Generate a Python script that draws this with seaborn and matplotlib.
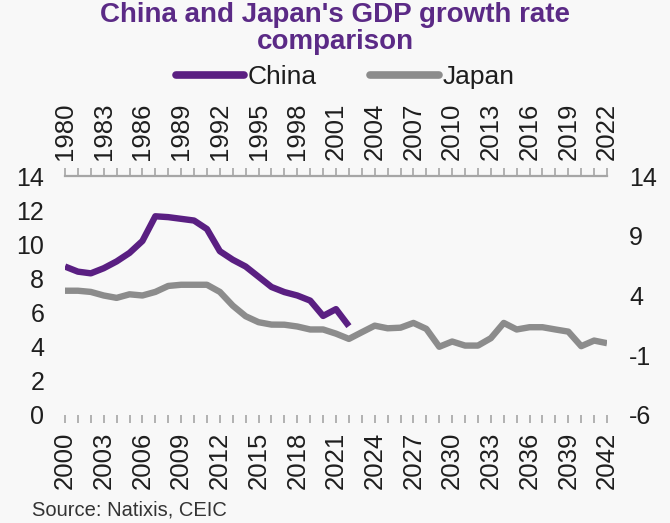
import matplotlib
matplotlib.use("Agg")
import matplotlib.pyplot as plt
import seaborn as sns
import pandas as pd
from matplotlib.ticker import MultipleLocator, FixedLocator
from matplotlib.lines import Line2D

sns.set_theme(style="white")
plt.rcParams['font.family'] = ['Liberation Sans', 'DejaVu Sans']
plt.rcParams['axes.unicode_minus'] = False

china_years = list(range(2000, 2023))
china_gdp = [8.7, 8.4, 8.3, 8.6, 9.0, 9.5, 10.2, 11.65, 11.6, 11.5, 11.4, 10.9,
             9.6, 9.1, 8.7, 8.1, 7.5, 7.2, 7.0, 6.7, 5.8, 6.2, 5.2]

japan_years = list(range(1980, 2023))
japan_gdp = [4.4, 4.4, 4.3, 4.0, 3.8, 4.1, 4.0, 4.3, 4.8, 4.9, 4.9, 4.9, 4.3,
             3.15, 2.26, 1.76, 1.56, 1.55, 1.4, 1.15, 1.15, 0.8, 0.36, 0.92,
             1.47, 1.25, 1.3, 1.7, 1.2, -0.3, 0.14, -0.2, -0.2, 0.42, 1.7,
             1.15, 1.34, 1.34, 1.15, 0.97, -0.25, 0.22, 0.0]

bottom_ticks = list(range(2000, 2043, 3))
top_ticks = list(range(1980, 2023, 3))
left_ticks = [0, 2, 4, 6, 8, 10, 12, 14]
right_ticks = [-6, -1, 4, 9, 14]

china_df = pd.DataFrame({"year": china_years, "gdp": china_gdp})
japan_df = pd.DataFrame({"year": japan_years, "gdp": japan_gdp})

bg = "#f8f8f8"
purple = "#5a1f82"
grey = "#8c8c8c"
spine_c = "#a6a6a6"
txt_c = "#1e1e1e"

fig = plt.figure(figsize=(6.7, 5.23), dpi=100, facecolor=bg)
pos = [0.097, 0.207, 0.809, 0.456]
ax2 = fig.add_axes(pos)
ax = fig.add_axes(pos, frameon=False)

sns.lineplot(data=japan_df, x="year", y="gdp", ax=ax2, color=grey, linewidth=4.6,
             solid_capstyle="butt")
sns.lineplot(data=china_df, x="year", y="gdp", ax=ax, color=purple, linewidth=4.6,
             solid_capstyle="butt")
ax2.set_facecolor(bg)
ax.patch.set_visible(False)

ax.set_xlim(2000, 2042)
ax.set_ylim(0, 14)
ax2.set_xlim(1980, 2022)
ax2.set_ylim(-6, 14)

# primary axes: bottom x, left y
for s in ["top", "left", "right"]:
    ax.spines[s].set_visible(False)
ax.spines["bottom"].set_visible(True)
ax.spines["bottom"].set_color(spine_c)
ax.spines["bottom"].set_linewidth(1.6)
ax.xaxis.set_major_locator(FixedLocator(bottom_ticks))
ax.xaxis.set_minor_locator(MultipleLocator(1))
ax.set_xticklabels([str(t) for t in bottom_ticks], rotation=90)
ax.set_yticks(left_ticks)
ax.tick_params(axis="x", which="both", direction="out", length=6, width=1.2,
               color=spine_c, bottom=True, labelsize=18.5, labelcolor=txt_c, pad=6)
ax.tick_params(axis="y", which="both", length=0, left=True, labelleft=True,
               labelsize=18, labelcolor=txt_c, pad=15)
ax.set_xlabel("")
ax.set_ylabel("")

# secondary axes: top x, right y (Japan)
for s in ["bottom", "left", "right"]:
    ax2.spines[s].set_visible(False)
ax2.xaxis.tick_top()
ax2.yaxis.tick_right()
ax2.spines["top"].set_visible(True)
ax2.spines["top"].set_color(spine_c)
ax2.spines["top"].set_linewidth(1.6)
ax2.xaxis.set_major_locator(FixedLocator(top_ticks))
ax2.xaxis.set_minor_locator(MultipleLocator(1))
ax2.set_xticklabels([str(t) for t in top_ticks], rotation=90)
ax2.set_yticks(right_ticks)
ax2.tick_params(axis="x", which="both", direction="out", length=6, width=1.2,
                color=spine_c, top=True, bottom=False, labeltop=True,
                labelbottom=False, labelsize=18.5, labelcolor=txt_c, pad=6)
ax2.tick_params(axis="y", which="both", length=0, right=True, left=False,
                labelright=True, labelleft=False, labelsize=18,
                labelcolor=txt_c, pad=16)
ax2.set_xlabel("")
ax2.set_ylabel("")
for a in (ax, ax2):
    if a.get_legend():
        a.get_legend().remove()

fig.text(0.5, 0.997, "China and Japan's GDP growth rate\ncomparison", ha="center",
         va="top", fontsize=20, fontweight="bold", color="#5b2a86",
         linespacing=1.05)

handles = [Line2D([0], [0], color=purple, lw=5.5, solid_capstyle="round"),
           Line2D([0], [0], color=grey, lw=5.5, solid_capstyle="round")]
fig.legend(handles, ["China", "Japan"], loc="center", bbox_to_anchor=(0.515, 0.853),
           ncol=2, frameon=False, fontsize=19, handlelength=2.6, handletextpad=0.15,
           columnspacing=2.0, labelcolor=txt_c)

fig.text(0.048, 0.025, "Source: Natixis, CEIC", ha="left", va="center",
         fontsize=14.5, color="#333333")

fig.savefig("out.png", dpi=100, facecolor=bg)
